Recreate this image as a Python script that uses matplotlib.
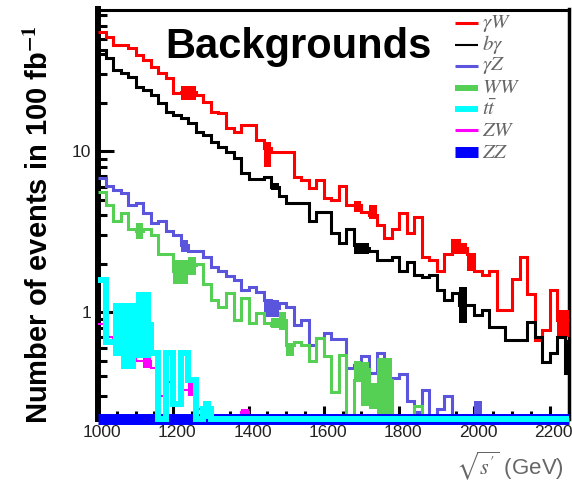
import numpy as np
import matplotlib
matplotlib.use("Agg")
import matplotlib.pyplot as plt
import matplotlib.transforms as mtransforms
from matplotlib.lines import Line2D
from matplotlib.ticker import LogLocator, MultipleLocator, NullFormatter, FuncFormatter

plt.rcParams['font.family'] = ['Liberation Sans', 'DejaVu Sans']
plt.rcParams['mathtext.fontset'] = 'stix'

# 20 GeV bins, last one cut at the 2250 GeV edge
bin_edges = np.append(np.arange(1000, 2250, 20), 2250)

# events per bin for 100 fb^-1
gamma_w = [55, 51, 46, 46, 43.6, 39.5, 36.7, 33.2, 30.5, 28.4,
           22.9, 23.2, 23.2, 22.3, 20.1, 17.5, 17.2, 13.9, 13.1, 14.5,
           14.5, 11.7, 10.4, 9.9, 9.9, 9.9, 6.9, 6.6, 5.9, 6.6,
           5.1, 5.0, 6.1, 4.6, 4.6, 4.2, 4.0, 3.5, 2.9, 3.3,
           4.1, 3.1, 3.9, 2.2, 2.1, 1.8, 2.3, 2.8, 2.5, 2.3,
           1.8, 1.7, 1.8, 1.03, 1.03, 1.6, 2.2, 1.3, 0.67, 0.77,
           1.37, 0.89, 0.89]
b_gamma = [42.4, 37.8, 31.9, 30.5, 28.8, 25.0, 23.9, 22.3, 19.9, 17.5,
           16.7, 16.0, 14.9, 13.1, 12.6, 11.4, 10.6, 9.9, 9.1, 7.3,
           6.7, 6.7, 6.9, 6.0, 5.3, 4.75, 4.75, 4.75, 3.7, 4.2,
           4.2, 3.1, 2.7, 3.3, 2.6, 2.5, 2.4, 2.1, 2.1, 2.2,
           1.8, 2.05, 1.7, 1.65, 1.7, 1.37, 1.19, 1.31, 1.10, 1.10,
           0.96, 1.03, 0.81, 0.81, 0.67, 0.67, 0.67, 0.87, 0.70, 0.49,
           0.56, 0.70, 0.42]
gamma_z = [6.8, 6.1, 5.7, 5.5, 4.6, 4.75, 4.1, 3.6, 3.7, 3.2,
           3.0, 2.6, 2.4, 2.4, 2.2, 1.9, 1.8, 1.67, 1.58, 1.37,
           1.43, 1.33, 1.19, 1.06, 1.14, 1.07, 0.83, 0.89, 0.62, 0.69,
           0.74, 0.68, 0.68, 0.45, 0.47, 0.53, 0.42, 0.56, 0.39, 0.39,
           0.41, 0.28, 0.24, 0.33, 0, 0.25, 0.30, 0, 0, 0,
           0.22, 0, 0, 0, 0, 0, 0, 0, 0, 0,
           0, 0, 0]
ww = [5.6, 4.6, 3.7, 4.1, 3.3, 3.2, 3.3, 3.0, 2.3, 2.3,
      1.8, 1.8, 1.96, 2.0, 1.5, 1.19, 1.07, 1.31, 0.89, 1.22,
      0.85, 0.99, 0.85, 0.83, 0.89, 0.62, 0.65, 0.62, 0.50, 0.69,
      0.53, 0.32, 0.54, 0, 0.38, 0.44, 0.30, 0.35, 0.38, 0,
      0, 0, 0.26, 0, 0, 0, 0, 0, 0, 0,
      0, 0, 0, 0, 0, 0, 0, 0, 0, 0,
      0, 0, 0]
tt = [1.58, 0.65, 0.65, 0.7, 0.7, 0.83, 0.83, 0.56, 0, 0.56,
      0.27, 0.56, 0.38, 0, 0.25, 0, 0, 0, 0, 0,
      0, 0, 0, 0, 0, 0, 0, 0, 0, 0,
      0, 0, 0, 0, 0, 0, 0, 0, 0, 0,
      0, 0, 0, 0, 0, 0, 0, 0, 0, 0,
      0, 0, 0, 0, 0, 0, 0, 0, 0, 0,
      0, 0, 0]
zw = [0.84, 0.7, 0.68, 0.6, 0.55, 0.5, 0.5, 0.45, 0.3, 0.37,
      0.26, 0.33, 0.33, 0.25, 0, 0, 0, 0, 0, 0.24,
      0, 0, 0, 0, 0, 0, 0, 0, 0, 0,
      0, 0, 0, 0, 0, 0, 0, 0, 0, 0,
      0, 0, 0, 0, 0, 0, 0, 0, 0, 0,
      0, 0, 0, 0, 0, 0, 0, 0, 0, 0,
      0, 0, 0]
zz = [0.0] * 63

# statistical error boxes: (bin, low, high)
gamma_w_err = [(11, 20.7, 25.3), (12, 20.7, 25.3), (22, 8.0, 11.4), (34, 4.2, 4.9),
               (36, 3.8, 4.6), (47, 2.3, 2.8), (48, 2.3, 2.7), (49, 1.8, 2.3),
               (61, 0.7, 1.03), (62, 0.7, 1.03)]
b_gamma_err = [(23, 5.7, 6.3), (34, 2.3, 2.7), (35, 2.3, 2.7), (48, 0.85, 1.43),
               (62, 0.42, 0.67)]
gamma_z_err = [(11, 2.36, 2.8), (22, 0.93, 1.19), (23, 0.93, 1.19), (50, 0.1, 0.28)]
ww_err = [(5, 2.84, 3.57), (10, 1.5, 2.1), (11, 1.5, 2.1), (12, 1.7, 2.2),
          (23, 0.80, 0.92), (24, 0.77, 1.0), (25, 0.53, 0.64), (34, 0.38, 0.5),
          (35, 0.26, 0.49), (36, 0.25, 0.36), (37, 0.23, 0.52), (38, 0.23, 0.52)]
tt_err = [(2, 0.53, 1.14), (3, 0.44, 1.14), (4, 0.44, 1.14), (5, 0.52, 1.33),
          (6, 0.52, 1.33), (14, 0.21, 0.28)]
zw_err = [(2, 0.67, 0.72), (6, 0.45, 0.54), (12, 0.30, 0.36), (19, 0.23, 0.25)]

Y_MIN, Y_MAX = 0.218, 76

fig = plt.figure(figsize=(5.72, 4.82), dpi=100)
ax = fig.add_axes([98 / 572, 1 - 418.5 / 482, 470.5 / 572, 409 / 482])
ax.set_yscale('log')
ax.set_xlim(1000, 2250)
ax.set_ylim(Y_MIN, Y_MAX)


def draw_hist(values, errors, color, lw, z):
    # empty bins sit on the lower frame edge
    vals = np.clip(np.asarray(values, dtype=float), Y_MIN, None)
    ax.stairs(vals, bin_edges, baseline=None, color=color, lw=lw, zorder=z,
              clip_on=False, joinstyle='miter', capstyle='butt')
    for i, lo, hi in errors:
        lo = max(lo, Y_MIN)
        ax.bar(bin_edges[i], hi - lo, bottom=lo, width=bin_edges[i + 1] - bin_edges[i],
               align='edge', color=color, lw=0, zorder=z)


series = [
    (gamma_w, gamma_w_err, '#ff0000', 2.2, 3, r'$\gamma W$', 2.2),
    (b_gamma, b_gamma_err, '#000000', 2.2, 4, r'$b\gamma$', 1.5),
    (gamma_z, gamma_z_err, '#5a55dc', 2.2, 5, r'$\gamma Z$', 2.2),
    (ww, ww_err, '#55d055', 2.2, 6, r'$WW$', 4.3),
    (tt, tt_err, '#00ffff', 4.3, 9, r'$t\bar{t}$', 4.3),
    (zw, zw_err, '#ff00ff', 1.5, 7, r'$ZW$', 2.2),
    (zz, [], '#0000ff', 7.9, 8, r'$ZZ$', 7.9),
]
for vals, errs, color, lw, z, _, _ in series:
    draw_hist(vals, errs, color, lw, z)

# axes and ticks
ax.xaxis.set_major_locator(MultipleLocator(200))
ax.xaxis.set_minor_locator(MultipleLocator(50))
ax.yaxis.set_major_locator(LogLocator(base=10, numticks=10))
ax.yaxis.set_minor_locator(LogLocator(base=10, subs=np.arange(2, 10), numticks=20))
ax.yaxis.set_minor_formatter(NullFormatter())
ax.yaxis.set_major_formatter(FuncFormatter(lambda v, _: f'{v:g}'))
ax.tick_params(axis='both', which='both', direction='in', top=False, right=False,
               labelsize=12.5, labelcolor='#222222', width=2.2, color='black')
ax.tick_params(axis='x', which='major', length=9.7, pad=5)
ax.tick_params(axis='x', which='minor', length=6)
ax.tick_params(axis='y', which='major', length=11.5, pad=5)
ax.tick_params(axis='y', which='minor', length=6.5)
ax.spines['left'].set_linewidth(4.3)
ax.spines['top'].set_linewidth(2.2)
ax.spines['right'].set_linewidth(2.5)
ax.spines['bottom'].set_linewidth(2.2)

shift = mtransforms.ScaledTranslation(4 / 100, 0, fig.dpi_scale_trans)
for lbl in ax.get_xticklabels():
    lbl.set_transform(lbl.get_transform() + shift)

# legend drawn by hand in figure pixels
for k, (_, _, color, _, _, label, leg_lw) in enumerate(series):
    y = 1 - (23 + 21.5 * k) / 482
    fig.add_artist(Line2D([455 / 572, 478 / 572], [y, y], color=color, lw=leg_lw,
                          solid_capstyle='butt'))
    fig.text(482 / 572, y, label, color='#666666', fontsize=15, va='center', ha='left')

fig.text(165 / 572, 1 - 58 / 482, 'Backgrounds', fontsize=30, fontweight='bold',
         va='baseline', ha='left')
fig.text(40 / 572, 1 - 225 / 482, r'Number of events in 100 fb$^{\mathbf{-1}}$',
         rotation=90, fontsize=21, fontweight='bold', va='center', ha='center')
fig.text(510 / 572, 1 - 466 / 482, r"$\sqrt{s'}$ (GeV)", color='#666666', fontsize=16,
         va='center', ha='center')

fig.savefig('out.png', dpi=100)
